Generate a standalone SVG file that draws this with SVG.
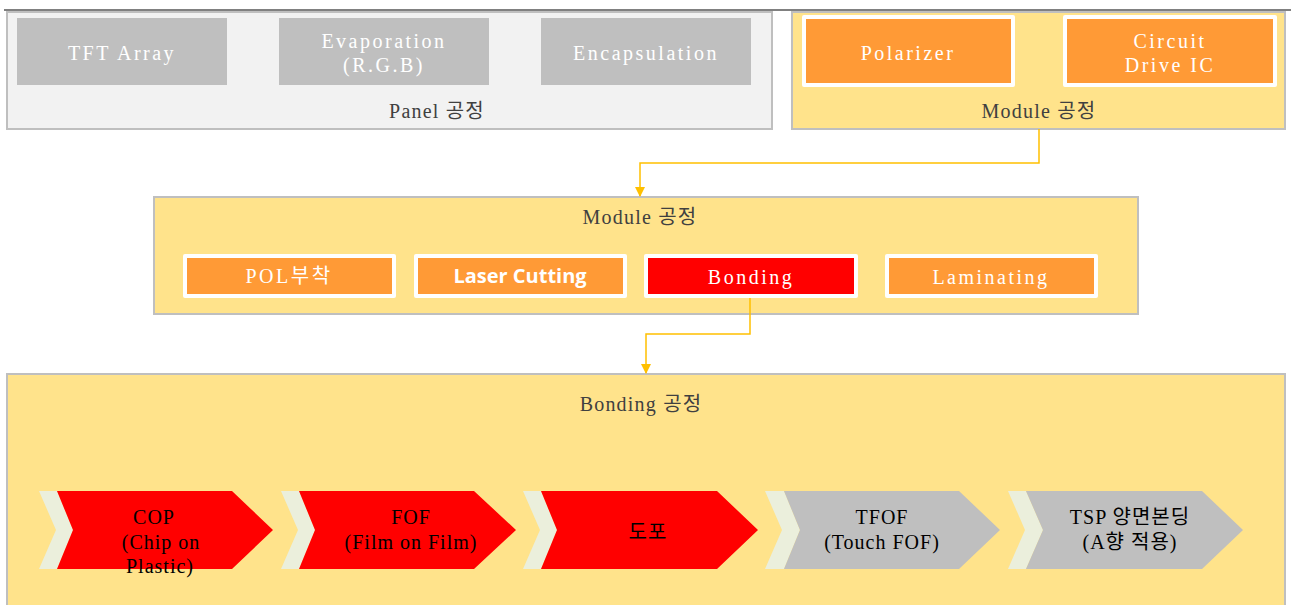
<svg xmlns="http://www.w3.org/2000/svg" width="1291" height="605" viewBox="0 0 1291 605">
  <defs>
    <style>
      .panel { fill: #f2f2f2; stroke: #bfbfbf; stroke-width: 2; }
      .yellow { fill: #ffe38b; stroke: #bfbfbf; stroke-width: 2; }
      .grey { fill: #bfbfbf; }
      .frame { fill: #ffffff; }
      .orange { fill: #ff9a36; }
      .red { fill: #ff0000; }
      .pale { fill: #ebefdc; }
      .chev-grey { fill: #bfbfbf; }
      .wt { font-family: "Liberation Serif", "Noto Sans CJK KR", serif; font-size: 20px; fill: #ffffff; text-anchor: middle; letter-spacing: 2.5px; }
      .dk { font-family: "Liberation Serif", "Noto Sans CJK KR", serif; font-size: 20px; fill: #404040; text-anchor: middle; letter-spacing: 1.2px; }
      .bk { font-family: "Liberation Serif", "Noto Sans CJK KR", serif; font-size: 20px; fill: #000000; text-anchor: middle; letter-spacing: 1px; }
      .bold { font-family: "Open Sans", "Noto Sans CJK KR", sans-serif; font-size: 20px; font-weight: bold; fill: #ffffff; text-anchor: middle; }
      .conn { fill: none; stroke: #ffc000; stroke-width: 1.5; }
    </style>
    <marker id="arrow" viewBox="0 0 10 10" refX="9" refY="5" markerWidth="7" markerHeight="7" orient="auto">
      <path d="M0,0 L10,5 L0,10 z" fill="#ffc000"/>
    </marker>
  </defs>

  <!-- top rule -->
  <line x1="4" y1="10" x2="1291" y2="10" stroke="#808080" stroke-width="2"/>

  <!-- Panel process -->
  <g id="panel-stage">
    <rect class="panel" x="7" y="12" width="765" height="117"/>
    <text class="dk" x="437" y="118">Panel 공정</text>
  </g>
  <g id="tft-array">
    <rect class="grey" x="17" y="18" width="210" height="67"/>
    <text class="wt" x="122" y="60">TFT Array</text>
  </g>
  <g id="evaporation">
    <rect class="grey" x="279" y="18" width="210" height="67"/>
    <text class="wt" x="384" y="48">Evaporation</text>
    <text class="wt" x="384" y="72">(R.G.B)</text>
  </g>
  <g id="encapsulation">
    <rect class="grey" x="541" y="18" width="210" height="67"/>
    <text class="wt" x="646" y="60">Encapsulation</text>
  </g>

  <!-- Module process (top) -->
  <g id="module-stage-top">
    <rect class="yellow" x="792" y="12" width="493" height="117"/>
    <text class="dk" x="1039" y="118">Module 공정</text>
  </g>
  <g id="polarizer">
    <rect class="frame" x="802" y="15" width="213" height="72" rx="2"/>
    <rect class="orange" x="806" y="19" width="205" height="64"/>
    <text class="wt" x="908" y="60">Polarizer</text>
  </g>
  <g id="circuit-drive-ic">
    <rect class="frame" x="1063" y="15" width="214" height="72" rx="2"/>
    <rect class="orange" x="1067" y="19" width="206" height="64"/>
    <text class="wt" x="1170" y="48">Circuit</text>
    <text class="wt" x="1170" y="72">Drive IC</text>
  </g>

  <!-- Module process (detail) -->
  <g id="module-stage">
    <rect class="yellow" x="154" y="197" width="984" height="117"/>
    <text class="dk" x="640" y="224">Module 공정</text>
  </g>
  <g id="pol-attach">
    <rect class="frame" x="183" y="254" width="213" height="44" rx="2"/>
    <rect class="orange" x="187" y="258" width="205" height="36"/>
    <text class="wt" x="289" y="283">POL부착</text>
  </g>
  <g id="laser-cutting">
    <rect class="frame" x="414" y="254" width="213" height="44" rx="2"/>
    <rect class="orange" x="418" y="258" width="205" height="36"/>
    <text class="bold" x="520" y="283">Laser Cutting</text>
  </g>
  <g id="bonding">
    <rect class="frame" x="644" y="254" width="214" height="44" rx="2"/>
    <rect class="red" x="648" y="258" width="206" height="36"/>
    <text class="wt" x="751" y="284">Bonding</text>
  </g>
  <g id="laminating">
    <rect class="frame" x="885" y="254" width="213" height="44" rx="2"/>
    <rect class="orange" x="889" y="258" width="205" height="36"/>
    <text class="wt" x="991" y="284">Laminating</text>
  </g>

  <!-- Bonding process -->
  <g id="bonding-stage">
    <rect class="yellow" x="7" y="374" width="1278" height="240"/>
    <text class="dk" x="641" y="411">Bonding 공정</text>
  </g>
  <g id="cop">
    <polygon class="pale" points="39,491 57,491 73,530 57,569 39,569 56,530"/>
    <polygon class="red" points="57,491 232,491 273,530 232,569 57,569 73,530"/>
    <text class="bk" x="154" y="524">COP</text>
    <text class="bk" x="161" y="549">(Chip on</text>
    <text class="bk" x="160" y="573">Plastic)</text>
  </g>
  <g id="fof">
    <polygon class="pale" points="281,491 299,491 315,530 299,569 281,569 298,530"/>
    <polygon class="red" points="299,491 474,491 516,530 474,569 299,569 315,530"/>
    <text class="bk" x="411" y="524">FOF</text>
    <text class="bk" x="411" y="549">(Film on Film)</text>
  </g>
  <g id="dispensing">
    <polygon class="pale" points="523,491 541,491 557,530 541,569 523,569 540,530"/>
    <polygon class="red" points="541,491 717,491 758,530 717,569 541,569 557,530"/>
    <text class="bk" x="648" y="539">도포</text>
  </g>
  <g id="tfof">
    <polygon class="pale" points="765,491 784,491 800,530 784,569 765,569 782,530"/>
    <polygon class="chev-grey" points="784,491 959,491 1000,530 959,569 784,569 800,530"/>
    <text class="bk" x="882" y="524">TFOF</text>
    <text class="bk" x="882" y="549">(Touch FOF)</text>
  </g>
  <g id="tsp-bonding">
    <polygon class="pale" points="1008,491 1026,491 1043,530 1026,569 1008,569 1025,530"/>
    <polygon class="chev-grey" points="1026,491 1202,491 1243,530 1202,569 1026,569 1043,530"/>
    <text class="bk" x="1130" y="524">TSP 양면본딩</text>
    <text class="bk" x="1130" y="549">(A향 적용)</text>
  </g>

  <!-- connectors -->
  <g id="connectors">
    <polyline class="conn" points="1039,129 1039,163 640,163 640,196" marker-end="url(#arrow)"/>
    <polyline class="conn" points="750,298 750,334 646,334 646,373" marker-end="url(#arrow)"/>
  </g>
</svg>
